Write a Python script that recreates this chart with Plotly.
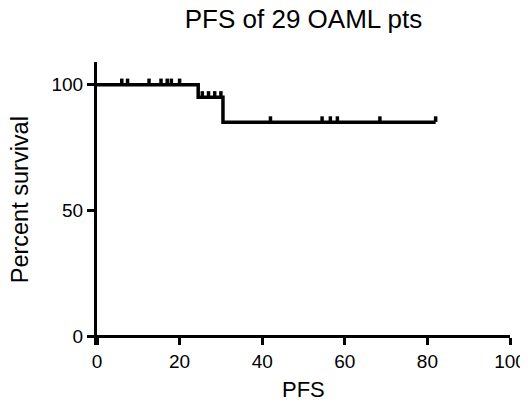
import plotly.graph_objects as go

# Kaplan-Meier step curve (time, percent survival)
step_time = [0, 24.5, 30.5, 82]
step_surv = [100, 95, 85, 85]

# Censored observations (time, survival level at that time)
cens_time = [6, 7.4, 12.6, 15.5, 17, 18, 20, 25.5, 27, 28.5, 30, 42, 54.5, 56.5, 58.2, 68.5, 82]
cens_surv = [100, 100, 100, 100, 100, 100, 100, 95, 95, 95, 95, 85, 85, 85, 85, 85, 85]

x_ticks = [0, 20, 40, 60, 80, 100]
y_ticks = [0, 50, 100]

FONT = "Liberation Sans, Arial, Helvetica, sans-serif"

Y_MIN, Y_MAX = -3.5, 109

fig = go.Figure()
fig.add_trace(go.Scatter(
    x=step_time, y=step_surv, mode="lines", line_shape="hv",
    line=dict(color="black", width=3.5), showlegend=False, hoverinfo="skip"))
fig.add_trace(go.Scatter(
    x=cens_time, y=[s + 1.3 for s in cens_surv], mode="markers",
    marker=dict(symbol="line-ns", size=4, line=dict(color="black", width=3.5)),
    showlegend=False, hoverinfo="skip"))

fig.update_layout(
    width=520, height=396,
    margin=dict(l=89, r=18, t=54, b=59),
    paper_bgcolor="white", plot_bgcolor="white",
    font=dict(family=FONT, color="black", size=19),
    title=dict(text="PFS of 29 OAML pts", xref="paper", x=0.5, xanchor="center",
               yref="container", y=0.9725, yanchor="middle",
               font=dict(size=26, family=FONT, color="black")),
    xaxis=dict(range=[0, 100], tickvals=x_ticks, showgrid=False, zeroline=False,
               anchor="free", position=(0 - Y_MIN) / (Y_MAX - Y_MIN),
               showline=True, linewidth=3, linecolor="black",
               ticks="outside", ticklen=7, tickwidth=3, tickcolor="black",
               tickfont=dict(size=19), automargin=False),
    yaxis=dict(range=[Y_MIN, Y_MAX], tickvals=y_ticks, showgrid=False, zeroline=False,
               showline=True, linewidth=3, linecolor="black",
               ticks="outside", ticklen=7, tickwidth=3, tickcolor="black",
               tickfont=dict(size=19), automargin=False),
    annotations=[
        dict(text="PFS", xref="paper", yref="paper", x=0.5, y=-0.159,
             xanchor="center", yanchor="middle", showarrow=False,
             font=dict(size=22, family=FONT, color="black")),
        dict(text="Percent survival", xref="paper", yref="paper", x=-0.186, y=0.512,
             xanchor="center", yanchor="middle", textangle=-90, showarrow=False,
             font=dict(size=23.5, family=FONT, color="black")),
    ],
)

fig.write_html("out.html")
